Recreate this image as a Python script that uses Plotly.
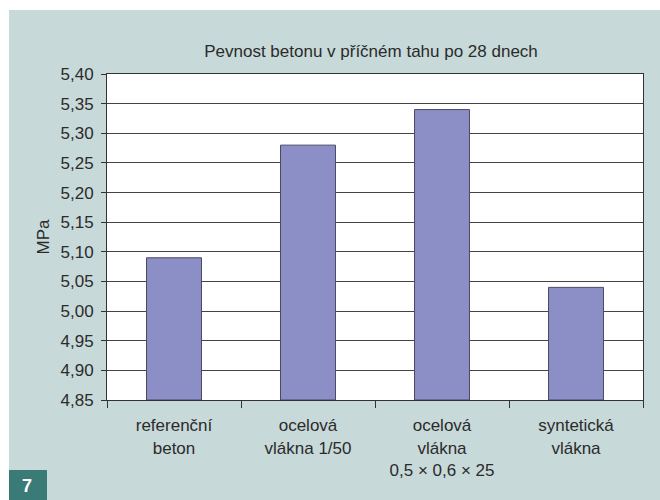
import plotly.graph_objects as go

# Splitting tensile strength after 28 days
categories = [
    "referenční<br>beton",
    "ocelová<br>vlákna 1/50",
    "ocelová<br>vlákna<br>0,5 × 0,6 × 25",
    "syntetická<br>vlákna",
]
strength_mpa = [5.09, 5.28, 5.34, 5.04]
y_floor = 4.85
y_ticks = [4.85, 4.90, 4.95, 5.00, 5.05, 5.10, 5.15, 5.20, 5.25, 5.30, 5.35, 5.40]
y_tick_text = [f"{v:.2f}".replace(".", ",") for v in y_ticks]

W, H = 660, 500
L, R, T, B = 107, 17, 74, 100
pw, ph = W - L - R, H - T - B

def px(x):
    return (x - L) / pw

def py(y):
    return (H - B - y) / ph

FONT = "Liberation Sans, Arial, sans-serif"
TXT = "#2b2b2b"
FS = 17

fig = go.Figure(
    go.Bar(
        x=categories,
        y=[v - y_floor for v in strength_mpa],
        base=y_floor,
        marker=dict(color="#8c8ec6", line=dict(color="#4a4a66", width=1)),
        width=0.41,
        hoverinfo="skip",
    )
)

fig.update_layout(
    width=W,
    height=H,
    margin=dict(l=L, r=R, t=T, b=B),
    paper_bgcolor="#c7d9d9",
    plot_bgcolor="#ffffff",
    showlegend=False,
    font=dict(family=FONT, color=TXT, size=FS),
    title=dict(
        text="Pevnost betonu v příčném tahu po 28 dnech",
        x=px(371), xanchor="center", xref="paper",
        y=1 - 51 / H, yanchor="middle",
        font=dict(size=FS, color=TXT, family=FONT),
    ),
    xaxis=dict(
        type="category",
        tickson="boundaries",
        ticks="outside",
        ticklen=7,
        tickcolor="#333333",
        ticklabelstandoff=10,
        showgrid=False,
        showline=True,
        linecolor="#333333",
        mirror=True,
        tickfont=dict(size=FS, color=TXT),
    ),
    yaxis=dict(
        range=[4.85, 5.40],
        tickvals=y_ticks,
        ticktext=y_tick_text,
        ticks="outside",
        ticklen=5,
        tickcolor="#333333",
        ticklabelstandoff=4,
        showgrid=True,
        gridcolor="#444444",
        gridwidth=1,
        showline=True,
        linecolor="#333333",
        mirror=True,
        zeroline=False,
        tickfont=dict(size=FS, color=TXT),
        title=dict(text="MPa", font=dict(size=FS, color=TXT), standoff=6),
    ),
    shapes=[
        # white page strips around the coloured panel
        dict(type="rect", xref="paper", yref="paper",
             x0=px(0), x1=px(W), y0=py(0), y1=py(10),
             fillcolor="#ffffff", line=dict(width=0), layer="below"),
        dict(type="rect", xref="paper", yref="paper",
             x0=px(0), x1=px(9), y0=py(0), y1=py(H),
             fillcolor="#ffffff", line=dict(width=0), layer="below"),
        # figure number tab
        dict(type="rect", xref="paper", yref="paper",
             x0=px(9), x1=px(47), y0=py(470), y1=py(H),
             fillcolor="#3a7b78", line=dict(width=0), layer="above"),
    ],
    annotations=[
        dict(text="<b>7</b>", xref="paper", yref="paper",
             x=px(27), y=py(486), xanchor="center", yanchor="middle",
             showarrow=False, font=dict(size=18, color="#ffffff", family=FONT)),
    ],
)

fig.write_html("out.html")
